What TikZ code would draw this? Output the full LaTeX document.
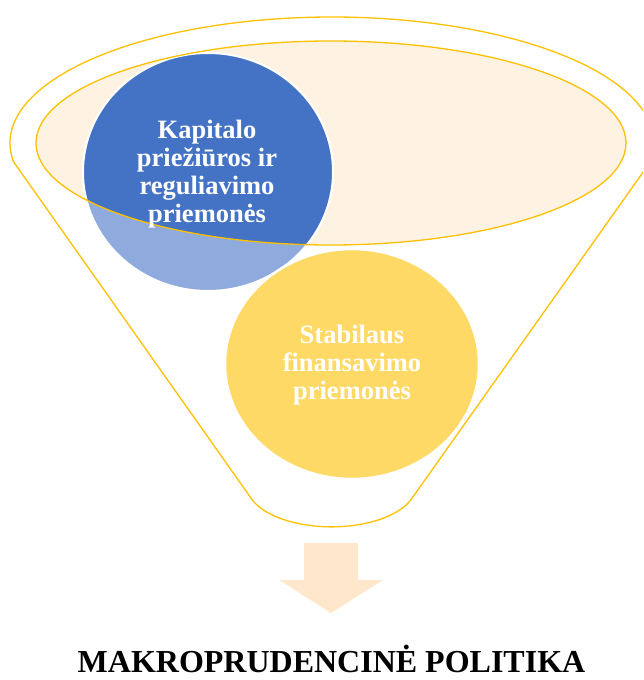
\documentclass[tikz,border=0pt]{standalone}
\usepackage{fontspec}
\setmainfont{Liberation Serif}
\definecolor{gold}{HTML}{FFC000}
\definecolor{peach}{HTML}{FEF2E3}
\definecolor{bluedark}{HTML}{4472C4}
\definecolor{bluelight}{HTML}{8FAADC}
\definecolor{yel}{HTML}{FFD966}
\definecolor{arrowc}{HTML}{FFE7CB}
\begin{document}
\begin{tikzpicture}[x=1pt,y=-1pt,
  goldline/.style={draw=gold, line width=1.3pt},
  circtext/.style={text=white, font=\fontsize{26.5}{28}\selectfont\bfseries, align=center, inner sep=0pt},
  titletext/.style={font=\fontsize{32}{38}\selectfont\bfseries, inner sep=0pt, anchor=base}]
\clip (0,0) rectangle (643,680);
% funnel outline
\draw[goldline, line join=round] (332,143) ++(171.33:322 and 126) coordinate (fl)
  arc[start angle=171.33, end angle=368.67, x radius=322, y radius=126] coordinate (fr)
  -- (410,501) arc[start angle=22.6, end angle=157.4, x radius=85, y radius=42] -- cycle;
% inner ellipse
\coordinate (ec) at (331,143);
\coordinate (bc) at (208,172);
\coordinate (yc) at (352,364);
\fill[peach] (ec) ellipse [x radius=295, y radius=102];
% blue circle
\fill[bluelight] (bc) ellipse [x radius=125, y radius=119];
\begin{scope}
  \clip (ec) ellipse [x radius=295, y radius=102];
  \fill[bluedark] (bc) ellipse [x radius=125, y radius=119];
\end{scope}
\draw[white, line width=2pt] (bc) ellipse [x radius=125, y radius=119];
\draw[goldline] (ec) ellipse [x radius=295, y radius=102];
% yellow circle
\filldraw[fill=yel, draw=white, line width=2.5pt] (yc) ellipse [x radius=127, y radius=115];
% texts
\node[circtext] (kap) at (207,174) {Kapitalo\\priežiūros ir\\reguliavimo\\priemonės};
\node[circtext] (stab) at (352,365) {Stabilaus\\finansavimo\\priemonės};
% arrow
\fill[arrowc] (304,543) -- (358,543) -- (358,580) -- (383,580) -- (331,613) -- (279,580) -- (304,580) -- cycle;
\node[titletext] (title) at (331.5,672.5) {MAKROPRUDENCINĖ POLITIKA};
\end{tikzpicture}
\end{document}
